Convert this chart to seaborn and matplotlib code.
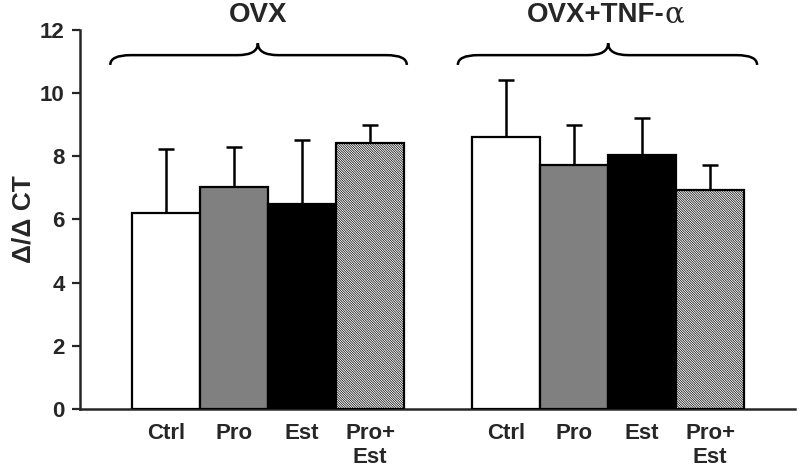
import numpy as np
import pandas as pd
import matplotlib
matplotlib.use('Agg')
import matplotlib.pyplot as plt
import seaborn as sns
from matplotlib.path import Path
from matplotlib.patches import PathPatch

# ==========================================
# 1. DATA
# ==========================================
kelompok = ['OVX', 'OVX+TNF-']
perlakuan = ['Ctrl', 'Pro', 'Est', 'Pro+\nEst']
posisi = [0, 1, 2, 3, 5, 6, 7, 8]
nilai = [6.22, 7.02, 6.50, 8.43, 8.60, 7.72, 8.03, 6.94]
galat = [2.00, 1.28, 2.00, 0.57, 1.80, 1.28, 1.17, 0.78]
warna = ['white', '#808080', 'black', 'white'] * 2

df = pd.DataFrame({'posisi': posisi, 'nilai': nilai})

# ==========================================
# 2. STYLE
# ==========================================
sns.set_theme(style='ticks')
plt.rcParams['font.family'] = ['Liberation Sans', 'DejaVu Sans']
plt.rcParams['font.weight'] = 'bold'
plt.rcParams['hatch.linewidth'] = 0.5
plt.rcParams['hatch.color'] = '#8c8c8c'

fig = plt.figure(figsize=(8, 4.74), dpi=100)
ax = fig.add_axes([0.1, 0.137, 0.894, 0.8])

# ==========================================
# 3. BARS + ERROR
# ==========================================
sns.barplot(data=df, x='posisi', y='nilai', native_scale=True, width=1.0,
            color='white', edgecolor='black', linewidth=1.6, ax=ax, zorder=3)

for i, p in enumerate(ax.patches):
    p.set_facecolor(warna[i])
    if i % 4 == 3:
        p.set_hatch('\\' * 14)

ax.errorbar(posisi, nilai, yerr=[np.zeros(len(galat)), galat], fmt='none',
            ecolor='black', elinewidth=1.8, capsize=6, capthick=1.8, zorder=2)

ax.set_xlim(-1.265, 9.25)
ax.set_ylim(0, 12)
ax.set_yticks(range(0, 13, 2))
ax.set_xticks(posisi)
ax.set_xticklabels(perlakuan * 2, fontsize=16, fontweight='bold', va='top')
ax.tick_params(axis='x', length=0, pad=10)
ax.tick_params(axis='y', length=6, width=1.6, labelsize=16, pad=5)
for lbl in ax.get_yticklabels():
    lbl.set_fontweight('bold')

ax.set_xlabel('')
ax.set_ylabel('Δ/Δ CT', fontsize=19, fontweight='bold', labelpad=3)

for s in ['top', 'right']:
    ax.spines[s].set_visible(False)
for s in ['left', 'bottom']:
    ax.spines[s].set_linewidth(1.8)

# ==========================================
# 4. KURUNG KURAWAL + JUDUL KELOMPOK
# ==========================================
def kurung(x0, x1, xc, y_ujung=10.89, y_garis=11.2, y_puncak=11.58, r=0.3):
    verts = [(x0, y_ujung), (x0, y_garis), (x0 + r, y_garis),
             (xc - r, y_garis), (xc, y_garis), (xc, y_puncak),
             (xc, y_garis), (xc + r, y_garis),
             (x1 - r, y_garis), (x1, y_garis), (x1, y_ujung)]
    codes = [Path.MOVETO, Path.CURVE3, Path.CURVE3,
             Path.LINETO, Path.CURVE3, Path.CURVE3,
             Path.CURVE3, Path.CURVE3,
             Path.LINETO, Path.CURVE3, Path.CURVE3]
    ax.add_patch(PathPatch(Path(verts, codes), fill=False, lw=1.8,
                           edgecolor='black', clip_on=False))

kurung(-0.82, 3.54, 1.35)
kurung(4.29, 8.69, 6.5)

ax.text(1.35, 12.47, kelompok[0], ha='center', va='center',
        fontsize=20, fontweight='bold', clip_on=False)
judul2 = ax.text(6.32, 12.47, kelompok[1], ha='center', va='center',
                 fontsize=20, fontweight='bold', clip_on=False)
ax.annotate('α', xy=(1, 0), xycoords=judul2, ha='left', va='bottom',
            fontsize=21, fontweight='normal', family=['DejaVu Serif'],
            annotation_clip=False)

fig.savefig('out.png', dpi=100)
